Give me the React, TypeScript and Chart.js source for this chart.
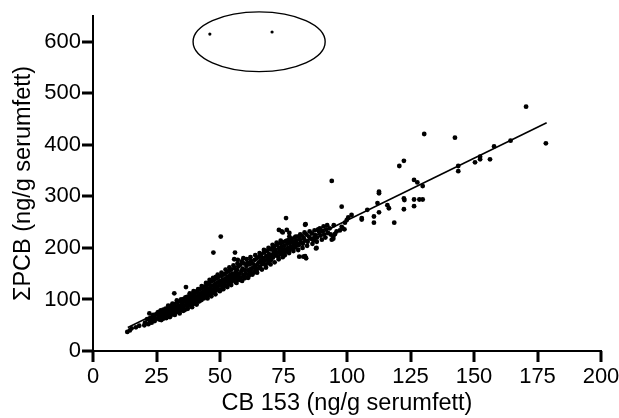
import React, { useEffect, useRef } from 'react';
import { Chart, registerables } from 'chart.js';

Chart.register(...registerables);

// Axis ticks
const xTickValues = [0, 25, 50, 75, 100, 125, 150, 175, 200];
const yTickValues = [0, 100, 200, 300, 400, 500, 600];

// Dense band of points: [CB 153, ΣPCB]
const band20to40: [number, number][] = [
  [20.5, 55], [21.3, 62], [21.8, 52], [22.6, 64], [23.4, 60], [24, 66], [24.3, 58], [24.8, 71],
  [25.2, 63], [25.5, 75], [25.8, 68], [26.1, 61], [26.4, 72], [26.7, 79], [27, 66], [27.2, 70], [27.5, 74], [27.8, 63],
  [28, 77], [28.3, 69], [28.6, 82], [28.8, 73], [29.1, 66], [29.4, 78], [29.7, 71], [29.9, 85],
  [30.1, 74], [30.4, 80], [30.6, 69], [30.9, 88], [31.1, 77], [31.4, 83], [31.6, 72], [31.9, 91], [32.1, 79], [32.4, 86],
  [32.6, 75], [32.9, 82], [33.1, 94], [33.3, 78], [33.6, 88], [33.9, 81], [34.1, 73], [34.3, 96], [34.6, 85], [34.9, 90], [35, 79],
  [35.3, 94], [35.5, 84], [35.8, 101], [36, 88], [36.2, 80], [36.5, 96], [36.8, 91], [37, 105], [37.2, 86], [37.5, 99],
  [37.7, 93], [38, 108], [38.2, 89], [38.5, 102], [38.7, 95], [39, 85], [39.2, 110], [39.4, 98], [39.7, 104], [39.9, 92],
];

const band40to60: [number, number][] = [
  [40.1, 113], [40.3, 97], [40.6, 105], [40.8, 90], [41, 116], [41.2, 101], [41.5, 108], [41.7, 96], [42, 119], [42.2, 104],
  [42.4, 111], [42.7, 99], [42.9, 122], [43.1, 107], [43.4, 115], [43.6, 102], [43.9, 125], [44.1, 110], [44.3, 118],
  [44.6, 105], [44.8, 128], [45, 113],
  [45.2, 121], [45.5, 108], [45.7, 131], [46, 116], [46.2, 124], [46.4, 111], [46.7, 135], [46.9, 119], [47.1, 127],
  [47.4, 114], [47.6, 138], [47.9, 122], [48.1, 130], [48.3, 117], [48.6, 141], [48.8, 125], [49, 133], [49.3, 120],
  [49.5, 144], [49.8, 128], [50, 136],
  [50.2, 119], [50.4, 131], [50.7, 146], [50.9, 124], [51.1, 138], [51.4, 128], [51.6, 149], [51.9, 133], [52.1, 141],
  [52.3, 126], [52.6, 152], [52.8, 136], [53.1, 144], [53.3, 130], [53.6, 155], [53.8, 139], [54, 147], [54.3, 134],
  [54.5, 158], [54.8, 142], [55, 150],
  [55.2, 137], [55.5, 146], [55.7, 161], [56, 141], [56.2, 153], [56.5, 132], [56.7, 157], [57, 145], [57.2, 164],
  [57.4, 139], [57.7, 150], [57.9, 167], [58.2, 143], [58.4, 155], [58.7, 136], [58.9, 160], [59.2, 148], [59.4, 170],
  [59.7, 141], [59.9, 157],
];

const band60to93: [number, number][] = [
  [60.2, 150], [60.4, 165], [60.7, 143], [60.9, 171], [61.2, 156], [61.4, 147], [61.7, 168], [61.9, 153], [62.2, 175],
  [62.4, 159], [62.7, 148], [62.9, 170], [63.2, 162], [63.5, 153], [63.7, 177], [64, 165], [64.2, 157], [64.5, 180],
  [64.7, 168], [65, 160],
  [65.3, 172], [65.5, 183], [65.8, 163], [66.1, 176], [66.3, 187], [66.6, 169], [66.9, 180], [67.1, 172], [67.4, 191],
  [67.7, 176], [67.9, 167], [68.2, 184], [68.5, 194], [68.7, 178], [69, 171], [69.3, 188], [69.5, 182], [69.8, 197], [70, 176],
  [70.3, 186], [70.5, 199], [70.8, 181], [71.1, 192], [71.3, 203], [71.6, 185], [71.9, 196], [72.1, 188], [72.4, 206],
  [72.7, 191], [72.9, 183], [73.2, 200], [73.5, 193], [73.7, 209], [74, 188], [74.3, 203], [74.5, 196], [74.8, 211], [75, 190],
  [75.3, 204], [75.6, 197], [75.9, 213], [76.2, 193], [76.5, 208], [76.8, 200], [77, 215], [77.3, 196], [77.6, 210],
  [77.9, 203], [78.2, 218], [78.5, 199], [78.8, 212], [79.1, 206], [79.4, 220], [79.7, 201], [80, 214],
  [80.3, 209], [80.6, 222], [81, 205], [81.4, 217], [81.8, 211], [82.2, 224], [82.6, 208], [83, 219], [83.4, 214],
  [84, 226], [84.5, 212], [85, 222], [85.6, 218], [86.2, 228], [86.8, 214], [87.5, 225], [88.2, 220], [89, 231],
  [89.6, 224], [90.3, 233], [91, 226], [91.8, 236], [92.5, 229], [93.2, 238],
];

// Extra points filling the edges of the band
const bandFillLow: [number, number][] = [
  [25.9, 76], [26.9, 60], [27.7, 80], [28.9, 64], [29.6, 88], [30.3, 66], [31.3, 92], [32.2, 70], [33, 98], [33.8, 76],
  [34.7, 100], [35.6, 78], [36.4, 104], [37.3, 82], [38.1, 112], [38.9, 88], [39.6, 116],
  [40.5, 94], [41.4, 120], [42.1, 98], [42.8, 126], [43.7, 104], [44.5, 132], [45.1, 102], [45.9, 138], [46.6, 106],
  [47.3, 142], [48.2, 110], [49.1, 148], [49.9, 116], [50.6, 152], [51.3, 120], [52.2, 158], [52.9, 124], [53.7, 162],
  [54.4, 128], [55.3, 166], [56.1, 134], [56.9, 170], [57.8, 138], [58.6, 174], [59.5, 144],
];

const bandFillHigh: [number, number][] = [
  [60.5, 178], [61.1, 142], [62, 182], [62.8, 150], [63.9, 186], [64.6, 152], [65.6, 190], [66.5, 158], [67.3, 196],
  [68.1, 162], [69.1, 200], [69.9, 168], [70.7, 206], [71.5, 172], [72.3, 210], [73.1, 178], [73.9, 214], [74.7, 182],
  [75.5, 186], [76.4, 214], [77.2, 190], [78, 216], [78.9, 194], [79.8, 222], [80.8, 196], [81.6, 226], [82.5, 200],
  [83.3, 230], [84.3, 204], [85.3, 232], [86.4, 208], [87.2, 234], [88.1, 212], [89.3, 238], [90.1, 216], [90.8, 242],
  [91.5, 220], [92.2, 244], [93.6, 226], [94.8, 244],
];

// Scattered points around and beyond the band
const scatterLow: [number, number][] = [
  [13.5, 37], [14.5, 40], [15.2, 44], [16.9, 46], [18.2, 49], [20.2, 50], [22.4, 57], [23.1, 55], [22.2, 73], [23.7, 70],
  [32, 112], [36.6, 124], [45.4, 131], [48.4, 144], [47.4, 191], [50.3, 222], [55.6, 178], [55.9, 191], [57, 177],
  [59.2, 180], [73.2, 235], [74.3, 232], [74.7, 230], [76, 258], [76.3, 235], [77.3, 229], [77.3, 222], [81.2, 183],
  [82.8, 183], [83.5, 184], [83.9, 180], [83.5, 245], [83.7, 246], [87.8, 199], [88, 200], [88.5, 235], [88.7, 236],
  [86.7, 217], [87.1, 216], [87.4, 220],
];

const scatterMid: [number, number][] = [
  [94, 216], [94.6, 218], [94.6, 222], [95.3, 227], [95.9, 232], [97.2, 234], [98.3, 238], [99, 236], [97.9, 241],
  [97.9, 280], [94, 330], [99.2, 249], [99.9, 254], [100.5, 259], [101.8, 264], [105.8, 258], [105.8, 255], [108, 274],
  [110.6, 261], [110.6, 249], [112, 287], [112.6, 309], [112.6, 306], [112.6, 269], [115.9, 283], [116.5, 277], [118.6, 249],
];

const scatterHigh: [number, number][] = [
  [120.6, 359], [122.4, 369], [122.4, 296], [122.6, 293], [122.4, 275], [126.4, 332], [127.7, 327], [129.8, 320],
  [126.4, 294], [128.5, 294], [129.8, 294], [126.4, 281], [130.4, 421], [142.5, 414], [143.8, 359], [143.8, 349],
  [150.4, 366], [152.4, 377], [152.4, 372], [156.3, 372], [157.9, 397], [164.4, 408], [170.5, 474], [178.3, 403],
];

// Two circled outliers
const outliers: [number, number][] = [[46, 615], [70.5, 619]];

// Regression line end points
const fitX = [13.7, 178.6];
const fitY = [45.5, 443];

// Ellipse (data units): centre and radii
const ellipseCenter = [65.4, 600];
const ellipseRadius = [26, 58];

const FONT = "'Liberation Sans', Arial, Helvetica, sans-serif";

const tickPlugin = {
  id: 'outsideTicks',
  afterDatasetsDraw(chart: any) {
    const { ctx, scales, chartArea } = chart;
    const x = scales.x;
    const y = scales.y;
    ctx.save();
    ctx.fillStyle = '#000000';
    xTickValues.forEach((v) => {
      const px = Math.round(x.getPixelForValue(v));
      ctx.fillRect(px - 1.5, chartArea.bottom, 3, 11);
    });
    yTickValues.forEach((v) => {
      const py = Math.round(y.getPixelForValue(v));
      ctx.fillRect(chartArea.left - 11, py - 1.5, 11, 3);
    });
    ctx.restore();
  },
};

const ellipsePlugin = {
  id: 'outlierEllipse',
  afterDatasetsDraw(chart: any) {
    const { ctx, scales } = chart;
    const x = scales.x;
    const y = scales.y;
    const cx = x.getPixelForValue(ellipseCenter[0]);
    const cy = y.getPixelForValue(ellipseCenter[1]);
    const rx = Math.abs(x.getPixelForValue(ellipseCenter[0] + ellipseRadius[0]) - cx);
    const ry = Math.abs(y.getPixelForValue(ellipseCenter[1] + ellipseRadius[1]) - cy);
    ctx.save();
    ctx.beginPath();
    ctx.ellipse(cx, cy, rx, ry, 0, 0, Math.PI * 2);
    ctx.lineWidth = 1.4;
    ctx.strokeStyle = '#000';
    ctx.stroke();
    ctx.restore();
  },
};

const toXY = (arr: [number, number][]) => arr.map(([x, y]) => ({ x, y }));

export default function App() {
  const canvasRef = useRef<HTMLCanvasElement | null>(null);

  useEffect(() => {
    if (!canvasRef.current) return;
    const allPoints = [
      ...band20to40, ...band40to60, ...band60to93, ...bandFillLow, ...bandFillHigh,
      ...scatterLow, ...scatterMid, ...scatterHigh,
    ];
    const chart = new Chart(canvasRef.current, {
      type: 'scatter',
      data: {
        datasets: [
          {
            label: 'points',
            data: toXY(allPoints),
            backgroundColor: '#000',
            borderWidth: 0,
            pointRadius: 2.4,
            pointHoverRadius: 2.4,
          },
          {
            label: 'outliers',
            data: toXY(outliers),
            backgroundColor: '#000',
            borderWidth: 0,
            pointRadius: 1.6,
          },
          {
            type: 'line',
            label: 'fit',
            data: fitX.map((x, i) => ({ x, y: fitY[i] })),
            borderColor: '#000',
            borderWidth: 1.6,
            pointRadius: 0,
            showLine: true,
            fill: false,
          } as any,
        ],
      },
      options: {
        animation: false,
        responsive: true,
        maintainAspectRatio: false,
        layout: { padding: { left: 0, right: 18, top: 16, bottom: 0 } },
        plugins: {
          legend: { display: false },
          tooltip: { enabled: false },
        },
        scales: {
          x: {
            type: 'linear',
            min: 0,
            max: 200,
            afterBuildTicks: (axis: any) => {
              axis.ticks = xTickValues.map((v) => ({ value: v }));
            },
            ticks: { color: '#000', font: { family: FONT, size: 22 }, padding: 3, maxRotation: 0 },
            grid: { display: false, drawTicks: true, tickLength: 10 },
            border: { display: true, color: '#000', width: 2 },
            title: {
              display: true,
              text: 'CB 153 (ng/g serumfett)',
              color: '#000',
              font: { family: FONT, size: 23.5 },
              padding: { top: 0, bottom: 0 },
            },
            afterFit: (s: any) => {
              s.height = 67;
              s.paddingLeft = 0;
              s.paddingRight = 0;
            },
          },
          y: {
            type: 'linear',
            min: 0,
            max: 650,
            afterBuildTicks: (axis: any) => {
              axis.ticks = yTickValues.map((v) => ({ value: v }));
            },
            ticks: { color: '#000', font: { family: FONT, size: 22 }, padding: 3 },
            grid: { display: false, drawTicks: true, tickLength: 9 },
            border: { display: true, color: '#000', width: 2 },
            title: {
              display: true,
              text: 'ΣPCB (ng/g serumfett)',
              color: '#000',
              font: { family: FONT, size: 23.5 },
              padding: { top: 9, bottom: 0 },
            },
            afterFit: (s: any) => {
              s.width = 93;
              s.paddingTop = 0;
              s.paddingBottom = 0;
            },
          },
        },
      },
      plugins: [ellipsePlugin, tickPlugin],
    });
    return () => chart.destroy();
  }, []);

  return (
    <div style={{ position: 'absolute', left: 0, top: 0, width: 619, height: 418, background: '#fff' }}>
      <canvas ref={canvasRef} />
    </div>
  );
}
